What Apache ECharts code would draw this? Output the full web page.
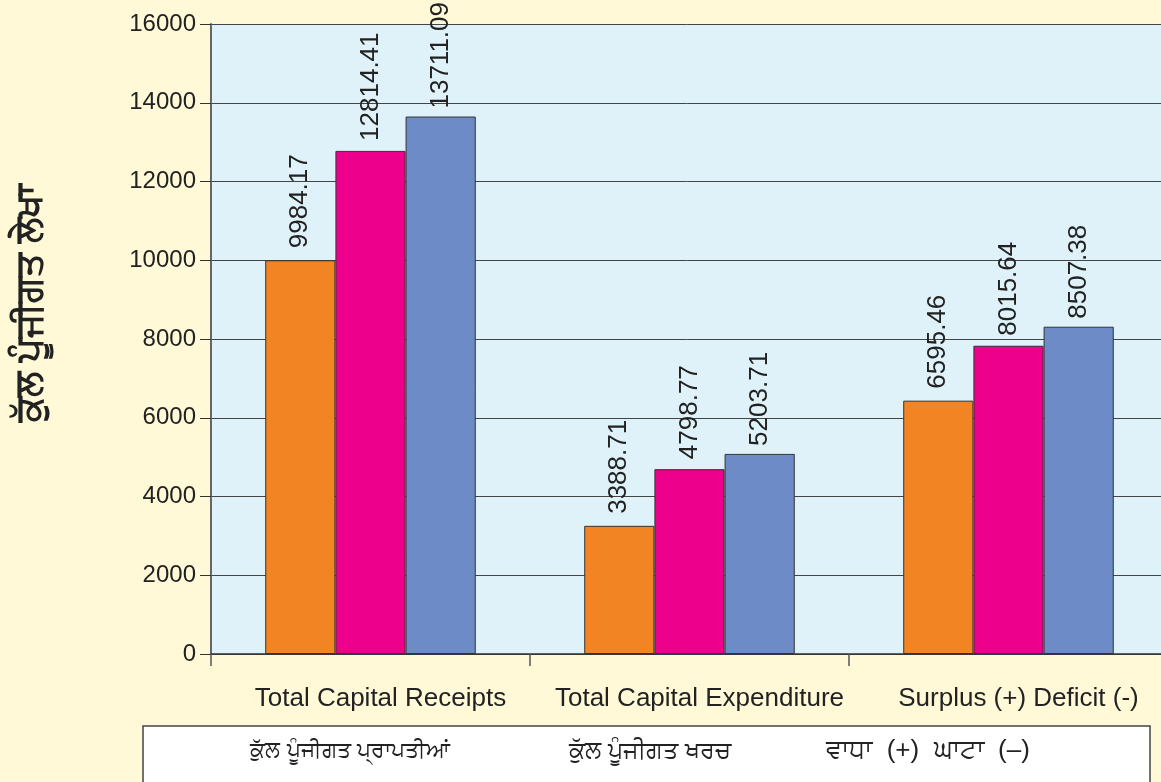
<!DOCTYPE html>
<html>
<head>
<meta charset="utf-8">
<script src="https://cdn.jsdelivr.net/npm/echarts@6/dist/echarts.min.js"></script>
<style>
  html, body { margin: 0; padding: 0; background: #fff9d8; }
  #chart { width: 1161px; height: 782px; }
</style>
</head>
<body>
<div id="chart"></div>
<script>
  // categories and values (bar heights as drawn, labels as printed)
  const categories = ['Total Capital Receipts', 'Total Capital Expenditure', 'Surplus (+) Deficit (-)']
  const punjabiCategories = ['ਕੁੱਲ ਪੂੰਜੀਗਤ ਪ੍ਰਾਪਤੀਆਂ', 'ਕੁੱਲ ਪੂੰਜੀਗਤ ਖਰਚ', 'ਵਾਧਾ  (+)  ਘਾਟਾ  (–)']
  const orangeValues = [10000, 3255, 6434]
  const pinkValues = [12777, 4694, 7829]
  const blueValues = [13650, 5082, 8312]
  const orangeLabels = ['9984.17', '3388.71', '6595.46']
  const pinkLabels = ['12814.41', '4798.77', '8015.64']
  const blueLabels = ['13711.09', '5203.71', '8507.38']
  const yTicks = [0, 2000, 4000, 6000, 8000, 10000, 12000, 14000, 16000]
  const yTitle = 'ਕੁੱਲ ਪੂੰਜੀਗਤ ਲੇਖਾ'

  const font = 'Liberation Sans, Arial, sans-serif'

  function barSeries(values, labels, color, distance) {
    return {
      type: 'bar',
      data: values,
      barGap: '0%',
      barCategoryGap: '34%',
      itemStyle: { color: color, borderColor: '#333', borderWidth: 1 },
      label: {
        show: true,
        position: 'top',
        rotate: 90,
        align: 'left',
        verticalAlign: 'middle',
        distance: distance,
        fontSize: 26,
        fontFamily: font,
        color: '#222',
        formatter: (p) => labels[p.dataIndex],
      },
    }
  }

  const chart = echarts.init(document.getElementById('chart'))
  chart.setOption({
    backgroundColor: '#fff9d8',
    animation: false,
    grid: {
      left: 211,
      top: 24,
      width: 957,
      height: 630,
      containLabel: false,
      outerBoundsMode: 'none',
      show: true,
      backgroundColor: '#dff2fa',
      borderWidth: 0,
    },
    xAxis: {
      type: 'category',
      data: categories,
      axisLine: { lineStyle: { color: '#333', width: 1.5 } },
      axisTick: { show: true, interval: 0, length: 12, lineStyle: { color: '#555', width: 1.5 } },
      axisLabel: {
        interval: 0,
        hideOverlap: false,
        fontSize: 26,
        fontFamily: font,
        color: '#222',
        margin: 32,
        padding: [0, 0, 0, 20],
      },
    },
    yAxis: {
      type: 'value',
      min: yTicks[0],
      max: yTicks[yTicks.length - 1],
      interval: yTicks[1] - yTicks[0],
      axisLine: { show: true, lineStyle: { color: '#666', width: 2 } },
      axisTick: { show: true, length: 11, lineStyle: { color: '#333' } },
      splitLine: { lineStyle: { color: '#444', width: 1 } },
      axisLabel: {
        fontSize: 24,
        fontFamily: font,
        color: '#222',
        margin: 15,
        formatter: (v) => String(v),
      },
    },
    series: [
      barSeries(orangeValues, orangeLabels, '#f28423', 12),
      barSeries(pinkValues, pinkLabels, '#ec008c', 10),
      barSeries(blueValues, blueLabels, '#6d8bc6', 8),
    ],
    graphic: [
      {
        type: 'text',
        x: 31,
        y: 303,
        rotation: Math.PI / 2,
        style: {
          text: yTitle,
          font: 'bold 37px ' + font,
          fill: '#222',
          align: 'center',
          verticalAlign: 'middle',
        },
      },
      {
        type: 'rect',
        shape: { x: 143, y: 726, width: 1007, height: 80 },
        style: { fill: '#fff', stroke: '#444', lineWidth: 1.5 },
      },
      ...punjabiCategories.map((t, i) => ({
        type: 'text',
        x: [350, 650, 928][i],
        y: 751,
        style: {
          text: t,
          font: [22, 24, 26][i] + 'px ' + font,
          fill: '#222',
          align: 'center',
          verticalAlign: 'middle',
        },
      })),
    ],
  })
</script>
</body>
</html>
